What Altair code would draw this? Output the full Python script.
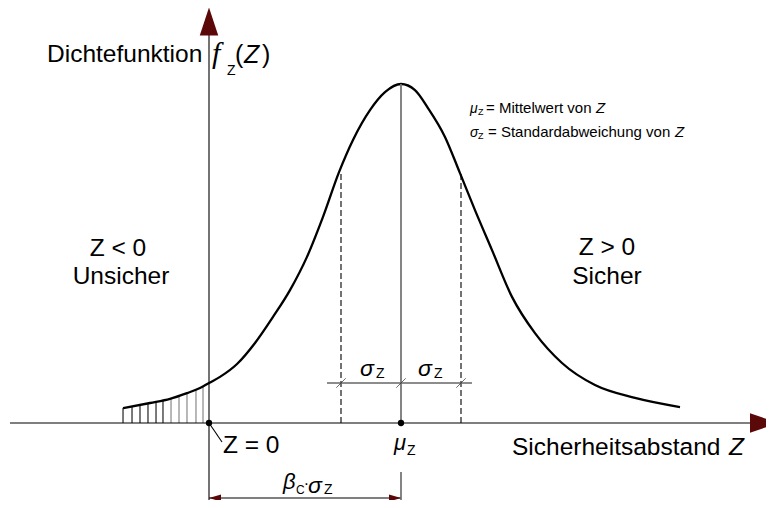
import altair as alt
import pandas as pd

# ---- data (Z in units of sigma_Z, density relative to its peak) ----
mu_z = 3.2
sigma_z = 1.0
curve_z = [-1.433, -0.983, -0.65, -0.367, -0.15, 0, 0.183, 0.467, 0.767, 1.067,
           1.35, 1.633, 1.9, 2.167, 2.4, 2.683, 2.933, 3.2, 3.433, 3.65,
           3.933, 4.183, 4.433, 4.717, 5.05, 5.433, 5.883, 6.433, 7.1, 7.85]
curve_f = [0.044, 0.059, 0.071, 0.088, 0.103, 0.118, 0.136, 0.174, 0.236, 0.313,
           0.392, 0.490, 0.608, 0.740, 0.835, 0.923, 0.976, 1.0, 0.982, 0.929,
           0.844, 0.737, 0.628, 0.510, 0.372, 0.265, 0.177, 0.112, 0.074, 0.047]
hatch_z = [-1.433, -1.283, -1.15, -1.017, -0.883, -0.767, -0.633, -0.5, -0.367, -0.217, -0.1]
hatch_f = [0.044, 0.050, 0.056, 0.059, 0.065, 0.068, 0.074, 0.080, 0.088, 0.097, 0.109]
f_at_sigma = [0.740, 0.737]

FONT = "Liberation Sans"
XS = alt.Scale(domain=[-3.35, 9.28333], nice=False, zero=False)
YS = alt.Scale(domain=[-0.227139, 1.224189], nice=False, zero=False)


def X(f="x"):
    return alt.X(f"{f}:Q", scale=XS, axis=None)


def Y(f="y"):
    return alt.Y(f"{f}:Q", scale=YS, axis=None)


# ---- curve ----
curve = alt.Chart(pd.DataFrame({"x": curve_z, "y": curve_f})).mark_line(
    color="black", strokeWidth=2.3, interpolate="monotone"
).encode(x=X(), y=Y())

# ---- hatching ----
hatch_df = pd.DataFrame({"x": hatch_z, "y": hatch_f, "y2": [0] * len(hatch_z),
                         "c": ["#222"] * 6 + ["#888"] * 5})
hatch = alt.Chart(hatch_df).mark_rule(strokeWidth=1.2).encode(
    x=X(), y=Y(), y2="y2:Q", color=alt.Color("c:N", scale=None))


def rules(rows, **kw):
    df = pd.DataFrame(rows, columns=["x", "x2", "y", "y2"])
    return alt.Chart(df).mark_rule(**kw).encode(x=X(), x2="x2:Q", y=Y(), y2="y2:Q")


DIM_Y = -0.2212
axes = rules([
    (-3.317, 9.1, 0, 0),            # horizontal axis
    (0, 0, -0.227, 1.1888),         # vertical axis
    (0, 0.217, 0, -0.056),          # leader line to "Z = 0"
    (0, mu_z, DIM_Y, DIM_Y),        # beta dimension line
], color="black", strokeWidth=1.1)

mu_lines = rules([
    (mu_z, mu_z, 0, 1.0),
    (mu_z, mu_z, -0.1445, -0.227),
], color="#777", strokeWidth=1.8)

dashed = rules([
    (mu_z - sigma_z, mu_z - sigma_z, 0, f_at_sigma[0]),
    (mu_z + sigma_z, mu_z + sigma_z, 0, f_at_sigma[1]),
], color="black", strokeWidth=1.1, strokeDash=[6, 3])

sigma_dim = rules([
    (1.967, 4.383, 0.118, 0.118),
], color="#666", strokeWidth=1.3)

slashes = alt.Chart(pd.DataFrame({"x": [mu_z - sigma_z, mu_z, mu_z + sigma_z],
                                  "y": [0.118] * 3})).mark_point(
    shape="M-1,1L1,-1", filled=False, size=90, color="#333", strokeWidth=1
).encode(x=X(), y=Y())

dots = alt.Chart(pd.DataFrame({"x": [0, mu_z], "y": [0, 0]})).mark_circle(
    size=40, color="black", opacity=1).encode(x=X(), y=Y())

ARROW = "#5a0808"
arrow_up = alt.Chart(pd.DataFrame({"x": [0], "y": [1.1844]})).mark_point(
    shape="M0,-1L0.66,1L-0.66,1Z", filled=True, size=784, color=ARROW, opacity=1
).encode(x=X(), y=Y())
arrow_right = alt.Chart(pd.DataFrame({"x": [9.25], "y": [0]})).mark_point(
    shape="M1,0L-1,-0.7L-1,0.7Z", filled=True, size=784, color=ARROW, opacity=1
).encode(x=X(), y=Y())
dim_left = alt.Chart(pd.DataFrame({"x": [0.1], "y": [DIM_Y]})).mark_point(
    shape="M-1,0L1,-0.6L1,0.6Z", filled=True, size=144, color=ARROW, opacity=1
).encode(x=X(), y=Y())
dim_right = alt.Chart(pd.DataFrame({"x": [mu_z - 0.1], "y": [DIM_Y]})).mark_point(
    shape="M1,0L-1,-0.6L-1,0.6Z", filled=True, size=144, color=ARROW, opacity=1
).encode(x=X(), y=Y())


# ---- texts ----
def texts(rows, **kw):
    df = pd.DataFrame(rows, columns=["x", "y", "t", "s"])
    return alt.Chart(df).mark_text(baseline="alphabetic", color="black", **kw).encode(
        x=X(), y=Y(), text="t:N", size=alt.Size("s:Q", scale=None, legend=None))


txt_left = texts([
    (-2.7, 1.065, "Dichtefunktion", 24.5),
    (0.3, 1.027, "Z", 14),
    (0.433, 1.062, "(", 25),
    (0.883, 1.062, ")", 25),
    (4.483, 0.909, "Z", 9),
    (4.617, 0.914, "= Mittelwert von ", 15),
    (4.483, 0.838, "Z", 9),
    (4.65, 0.844, "= Standardabweichung von ", 15),
    (5.05, -0.0944, "Sicherheitsabstand ", 24.5),
    (0.233, -0.0885, "Z = 0", 24.5),
    (3.3, -0.0944, "Z", 14),
    (1.45, -0.2094, "C", 12),
    (1.58, -0.1947, "·", 16),
    (1.917, -0.2094, "Z", 14),
    (2.783, 0.1327, "Z", 14),
    (3.75, 0.1327, "Z", 14),
], align="left", font=FONT)

txt_center = texts([
    (-1.517, 0.493, "Z < 0", 24.5),
    (-1.467, 0.410, "Unsicher", 24.5),
    (6.633, 0.496, "Z > 0", 24.5),
    (6.633, 0.410, "Sicher", 24.5),
], align="center", font=FONT)

txt_italic = texts([
    (0.583, 1.062, "Z", 25),
    (4.35, 0.914, "μ", 14),
    (6.45, 0.914, "Z", 15),
    (4.35, 0.844, "σ", 14),
    (7.767, 0.844, "Z", 15),
    (8.667, -0.0944, "Z", 24.5),
    (3.083, -0.0796, "μ", 22),
    (1.233, -0.1947, "β", 22),
    (1.65, -0.2065, "σ", 23),
    (2.517, 0.1386, "σ", 23),
    (3.483, 0.1386, "σ", 23),
], align="left", font=FONT, fontStyle="italic")

txt_serif = texts([
    (0.05, 1.062, "f", 30),
], align="left", font="Liberation Serif", fontStyle="italic")

chart = alt.layer(
    hatch, curve, axes, mu_lines, dashed, sigma_dim, slashes, dots,
    arrow_up, arrow_right, dim_left, dim_right,
    txt_left, txt_center, txt_italic, txt_serif,
).properties(
    width=758, height=492, padding=0, autosize="none", background="white"
).configure_view(stroke=None)

chart.save("out.html", embed_options={"renderer": "svg", "actions": False})
